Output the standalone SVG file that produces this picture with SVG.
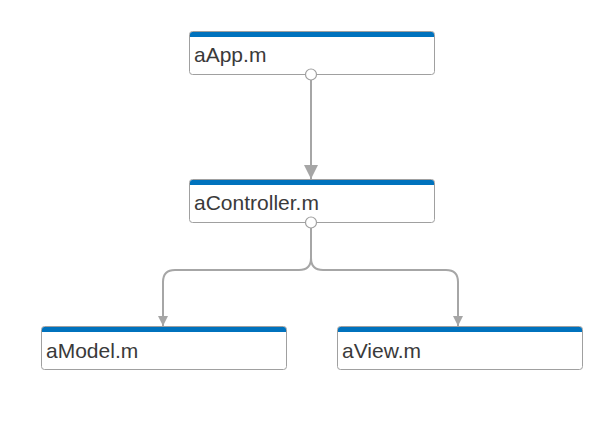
<svg xmlns="http://www.w3.org/2000/svg" width="612" height="432" viewBox="0 0 612 432">
<defs>
<style>
.box{fill:#fff;stroke:#a0a0a0;stroke-width:1}
.bar{fill:#0072bd}
.lbl{font-family:"Liberation Sans",Arial,sans-serif;font-size:21px;fill:#3a3a3a}
.edge{fill:none;stroke:#a6a6a6;stroke-width:2}
.port{fill:#fff;stroke:#a0a0a0;stroke-width:1.2}
</style>
<marker id="arr" viewBox="0 0 10 10" refX="10" refY="5" markerWidth="10" markerHeight="10" markerUnits="userSpaceOnUse" orient="auto">
<path d="M0,0 L10,5 L0,10 Z" fill="#a6a6a6"/>
</marker>
<marker id="arrBig" viewBox="0 0 10 10" refX="10" refY="5" markerWidth="14" markerHeight="20" markerUnits="userSpaceOnUse" orient="auto">
<path d="M0,0 L10,5 L0,10 Z" fill="#a6a6a6"/>
</marker>
</defs>
<g id="connectors">
<path class="edge" d="M311,80 V179" marker-end="url(#arrBig)"/>
<path class="edge" d="M311,228 V258 Q311,270 299,270 H175 Q163,270 163,282 V326" marker-end="url(#arr)"/>
<path class="edge" d="M311,258 Q311,270 323,270 H446 Q458,270 458,282 V326" marker-end="url(#arr)"/>
</g>
<g id="aApp">
<rect class="box" x="189.5" y="31.5" width="245" height="43" rx="3"/>
<path class="bar" d="M190,37 V34.5 Q190,32 192.5,32 H431.5 Q434,32 434,34.5 V37 Z"/>
<text class="lbl" x="194" y="62">aApp.m</text>
<circle class="port" cx="311" cy="74.5" r="5.5"/>
</g>
<g id="aController">
<rect class="box" x="189.5" y="179.5" width="245" height="43" rx="3"/>
<path class="bar" d="M190,185 V182.5 Q190,180 192.5,180 H431.5 Q434,180 434,182.5 V185 Z"/>
<text class="lbl" x="194" y="210">aController.m</text>
<circle class="port" cx="311" cy="222.5" r="5.5"/>
</g>
<g id="aModel">
<rect class="box" x="41.5" y="326.5" width="245" height="43" rx="3"/>
<path class="bar" d="M42,332 V329.5 Q42,327 44.5,327 H283.5 Q286,327 286,329.5 V332 Z"/>
<text class="lbl" x="46" y="358">aModel.m</text>
</g>
<g id="aView">
<rect class="box" x="337.5" y="326.5" width="245" height="43" rx="3"/>
<path class="bar" d="M338,332 V329.5 Q338,327 340.5,327 H579.5 Q582,327 582,329.5 V332 Z"/>
<text class="lbl" x="342" y="358">aView.m</text>
</g>
</svg>
